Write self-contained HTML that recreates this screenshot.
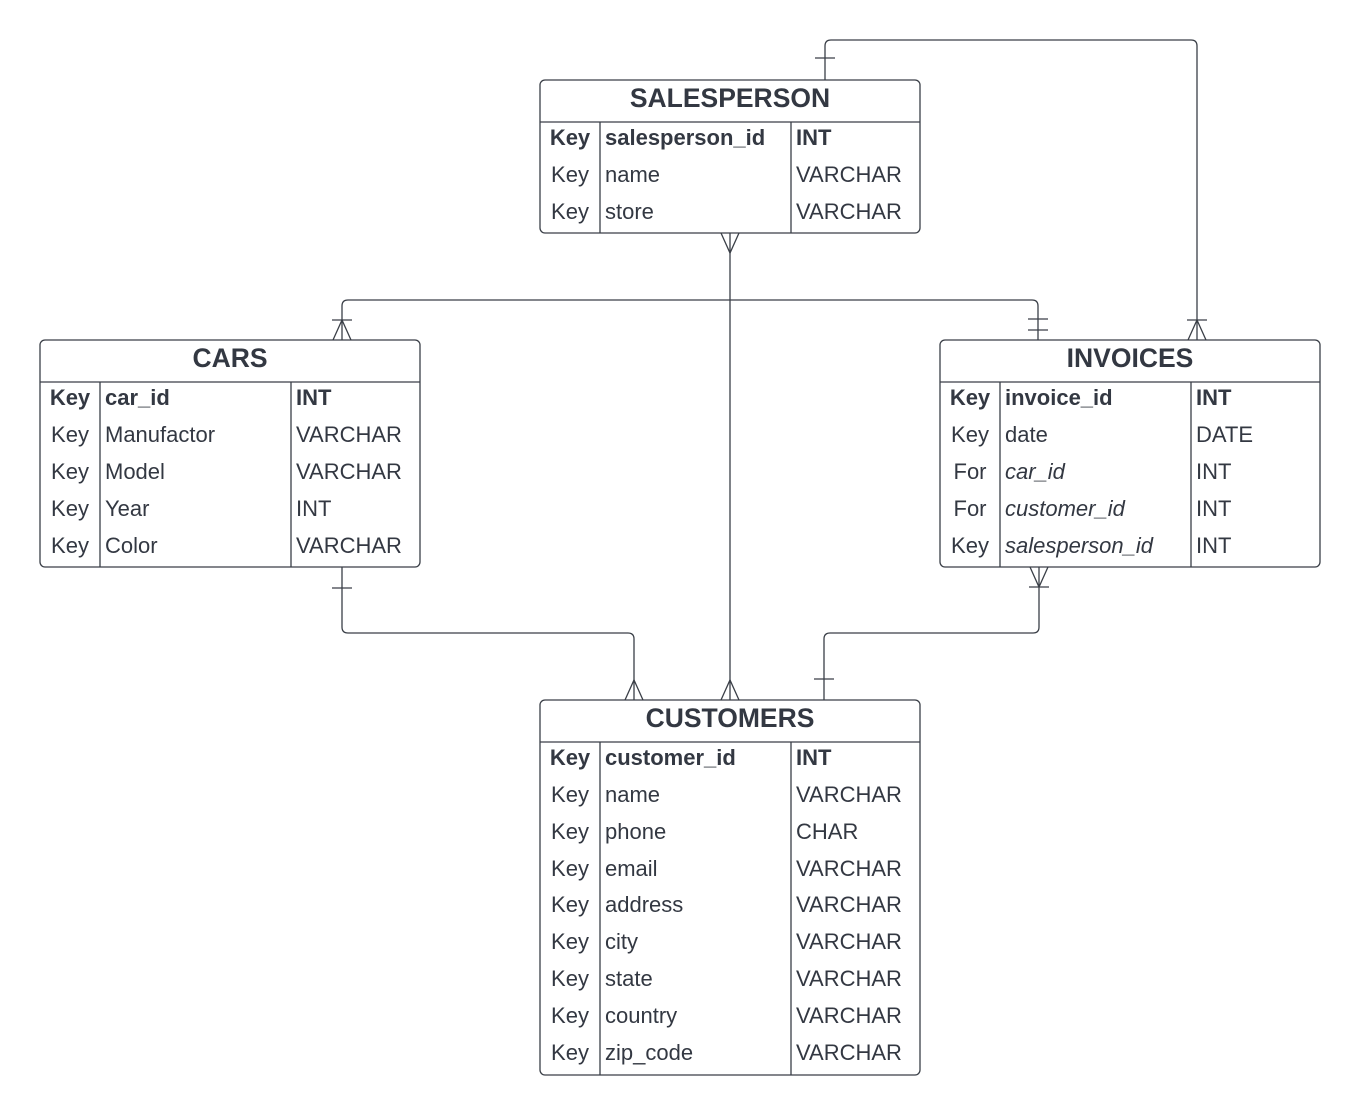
<!DOCTYPE html>
<html><head><meta charset="utf-8"><style>
html,body{margin:0;padding:0;background:#fff}
svg{display:block}
text{font-family:"Liberation Sans",Arial,sans-serif;fill:#333842}
.h{font-size:26.5px;font-weight:bold}
.r{font-size:22px}
.b{font-weight:bold}
.i{font-style:italic}
</style></head><body>
<svg width="1360" height="1116" viewBox="0 0 1360 1116" xmlns="http://www.w3.org/2000/svg">
<g fill="none" stroke="#3a3f47" stroke-width="1.3">
<path d="M825 80 V46 Q825 40 831 40 H1191 Q1197 40 1197 46 V340"/>
<path d="M815 58 H835"/>
<path d="M1187 320 H1207 M1197 320 L1188 340 M1197 320 L1206 340"/>
<path d="M730 233 V700"/>
<path d="M721 233 L730 253 L739 233"/>
<path d="M721 700 L730 680 L739 700"/>
<path d="M342 340 V306 Q342 300 348 300 H1032 Q1038 300 1038 306 V340"/>
<path d="M332 320 H352 M342 320 L333 340 M342 320 L351 340"/>
<path d="M1028 319 H1048 M1028 330 H1048"/>
<path d="M342 567 V627 Q342 633 348 633 H628 Q634 633 634 639 V700"/>
<path d="M332 588 H352"/>
<path d="M625 700 L634 680 L643 700"/>
<path d="M1039 567 V627 Q1039 633 1033 633 H830 Q824 633 824 639 V700"/>
<path d="M1030 567 L1039 587 L1048 567 M1029 587 H1049"/>
<path d="M814 679 H834"/>
</g>

<g fill="#fff" stroke="#3a3f47" stroke-width="1.3">
<rect x="540" y="80" width="380" height="153" rx="5"/>
<path d="M540 122 H920 M600 122 V233 M791 122 V233" fill="none"/>
<rect x="40" y="340" width="380" height="227" rx="5"/>
<path d="M40 382 H420 M100 382 V567 M291 382 V567" fill="none"/>
<rect x="940" y="340" width="380" height="227" rx="5"/>
<path d="M940 382 H1320 M1000 382 V567 M1191 382 V567" fill="none"/>
<rect x="540" y="700" width="380" height="375" rx="5"/>
<path d="M540 742 H920 M600 742 V1075 M791 742 V1075" fill="none"/>
</g>

<g class="r">
<text class="h" x="730" y="107" text-anchor="middle">SALESPERSON</text>
<text class="b" x="570" y="145" text-anchor="middle">Key</text><text class="b" x="605" y="145">salesperson_id</text><text class="b" x="796" y="145">INT</text>
<text x="570" y="182" text-anchor="middle">Key</text><text x="605" y="182">name</text><text x="796" y="182">VARCHAR</text>
<text x="570" y="219" text-anchor="middle">Key</text><text x="605" y="219">store</text><text x="796" y="219">VARCHAR</text>

<text class="h" x="230" y="367" text-anchor="middle">CARS</text>
<text class="b" x="70" y="405" text-anchor="middle">Key</text><text class="b" x="105" y="405">car_id</text><text class="b" x="296" y="405">INT</text>
<text x="70" y="442" text-anchor="middle">Key</text><text x="105" y="442">Manufactor</text><text x="296" y="442">VARCHAR</text>
<text x="70" y="479" text-anchor="middle">Key</text><text x="105" y="479">Model</text><text x="296" y="479">VARCHAR</text>
<text x="70" y="516" text-anchor="middle">Key</text><text x="105" y="516">Year</text><text x="296" y="516">INT</text>
<text x="70" y="553" text-anchor="middle">Key</text><text x="105" y="553">Color</text><text x="296" y="553">VARCHAR</text>

<text class="h" x="1130" y="367" text-anchor="middle">INVOICES</text>
<text class="b" x="970" y="405" text-anchor="middle">Key</text><text class="b" x="1005" y="405">invoice_id</text><text class="b" x="1196" y="405">INT</text>
<text x="970" y="442" text-anchor="middle">Key</text><text x="1005" y="442">date</text><text x="1196" y="442">DATE</text>
<text x="970" y="479" text-anchor="middle">For</text><text class="i" x="1005" y="479">car_id</text><text x="1196" y="479">INT</text>
<text x="970" y="516" text-anchor="middle">For</text><text class="i" x="1005" y="516">customer_id</text><text x="1196" y="516">INT</text>
<text x="970" y="553" text-anchor="middle">Key</text><text class="i" x="1005" y="553">salesperson_id</text><text x="1196" y="553">INT</text>

<text class="h" x="730" y="727" text-anchor="middle">CUSTOMERS</text>
<text class="b" x="570" y="765" text-anchor="middle">Key</text><text class="b" x="605" y="765">customer_id</text><text class="b" x="796" y="765">INT</text>
<text x="570" y="802" text-anchor="middle">Key</text><text x="605" y="802">name</text><text x="796" y="802">VARCHAR</text>
<text x="570" y="839" text-anchor="middle">Key</text><text x="605" y="839">phone</text><text x="796" y="839">CHAR</text>
<text x="570" y="876" text-anchor="middle">Key</text><text x="605" y="876">email</text><text x="796" y="876">VARCHAR</text>
<text x="570" y="912" text-anchor="middle">Key</text><text x="605" y="912">address</text><text x="796" y="912">VARCHAR</text>
<text x="570" y="949" text-anchor="middle">Key</text><text x="605" y="949">city</text><text x="796" y="949">VARCHAR</text>
<text x="570" y="986" text-anchor="middle">Key</text><text x="605" y="986">state</text><text x="796" y="986">VARCHAR</text>
<text x="570" y="1023" text-anchor="middle">Key</text><text x="605" y="1023">country</text><text x="796" y="1023">VARCHAR</text>
<text x="570" y="1060" text-anchor="middle">Key</text><text x="605" y="1060">zip_code</text><text x="796" y="1060">VARCHAR</text>
</g>
</svg>
</body></html>
